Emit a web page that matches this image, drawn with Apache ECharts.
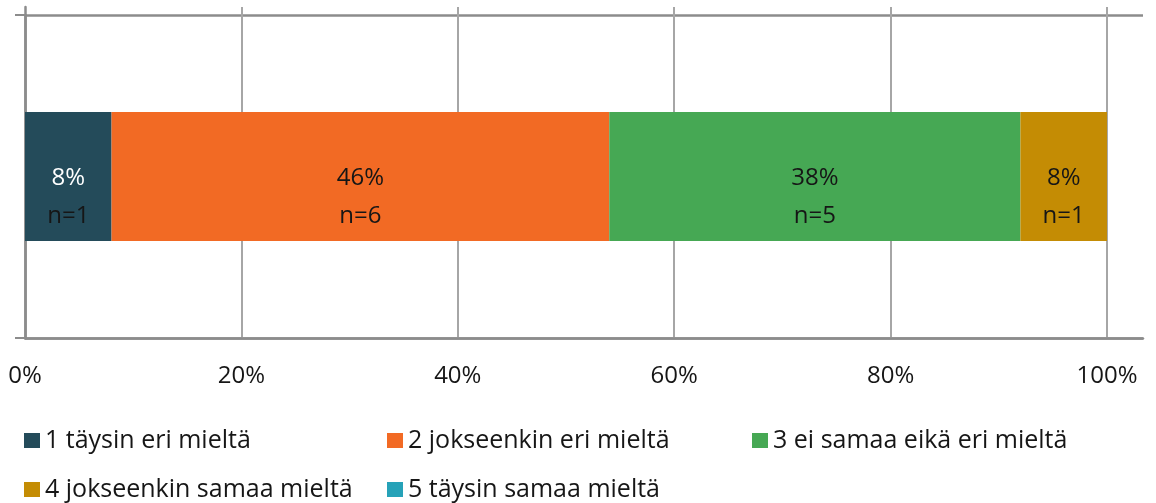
<!DOCTYPE html>
<html><head><meta charset="utf-8">
<script src="https://cdn.jsdelivr.net/npm/echarts@6/dist/echarts.min.js"></script>
<style>html,body{margin:0;padding:0;background:#fff}#c{width:1156px;height:503px}</style>
</head><body><div id="c"></div>
<script>
// ---- data ----
const categories = ['Kysymys'];
const seriesNames = ['1 täysin eri mieltä', '2 jokseenkin eri mieltä', '3 ei samaa eikä eri mieltä', '4 jokseenkin samaa mieltä', '5 täysin samaa mieltä'];
const percentages = [8, 46, 38, 8, 0];
const counts = [1, 6, 5, 1, 0];
const colors = ['#244b5a', '#f26a24', '#46a854', '#c48c04', '#26a2b8'];
const xTickMax = 100;

const chart = echarts.init(document.getElementById('c'), null, {renderer: 'canvas'});
const FONT = '"Open Sans"';
const legendPos = [[24, 428], [387, 428], [752, 428], [24, 477], [387, 477]];
const AXIS_GREY = '#8c8c8c';
const GRID_GREY = '#a6a6a6';
const TEXT = '#161616';

const option = {
  animation: false,
  grid: [
    {left: 25, right: 13, top: 15, bottom: 165},
    {left: 25, right: 13, top: 7, bottom: 165}
  ],
  xAxis: [{
    gridIndex: 0, type: 'value', min: 0, max: 103.33, interval: 20,
    axisLine: {show: true, lineStyle: {color: AXIS_GREY, width: 2.5}},
    axisTick: {show: false},
    axisLabel: {formatter: v => v <= xTickMax ? v + '%' : '', fontSize: 24, fontFamily: FONT, color: TEXT, margin: 26},
    splitLine: {show: false}
  }, {
    gridIndex: 1, type: 'value', min: 0, max: 103.33, interval: 20,
    axisLine: {show: false}, axisTick: {show: false}, axisLabel: {show: false},
    splitLine: {show: true, showMinLine: false, showMaxLine: false, lineStyle: {color: GRID_GREY, width: 2}}
  }],
  yAxis: [{
    gridIndex: 0, type: 'category', data: categories,
    axisLabel: {show: false},
    axisLine: {show: true, lineStyle: {color: AXIS_GREY, width: 2.5}},
    axisTick: {show: true, length: 10, lineStyle: {color: AXIS_GREY, width: 2}},
    splitLine: {show: true, lineStyle: {color: AXIS_GREY, width: 2.5}}
  }, {
    gridIndex: 1, type: 'category', data: categories,
    axisLabel: {show: false}, axisTick: {show: false}, splitLine: {show: false},
    axisLine: {show: true, lineStyle: {color: AXIS_GREY, width: 2.5}}
  }],
  legend: seriesNames.map((n, i) => ({
    data: [n], left: legendPos[i][0], top: legendPos[i][1], padding: 0,
    itemWidth: 16, itemHeight: 15, icon: 'rect', selectedMode: false,
    textStyle: {fontSize: 25, fontFamily: FONT, color: TEXT}
  })),
  series: seriesNames.map((name, i) => ({
    name, type: 'bar', stack: 'total', barWidth: '40%',
    xAxisIndex: 0, yAxisIndex: 0,
    data: [percentages[i]],
    itemStyle: {color: colors[i]},
    emphasis: {disabled: true},
    label: {
      show: percentages[i] > 0, position: 'inside', offset: [0, 21],
      formatter: () => `{p|${percentages[i]}%}\n{n|n=${counts[i]}}`,
      rich: {
        p: {fontSize: 24, fontFamily: FONT, lineHeight: 38, color: i === 0 ? '#ffffff' : TEXT},
        n: {fontSize: 24, fontFamily: FONT, lineHeight: 38, color: TEXT}
      }
    }
  }))
};
chart.setOption(option);
</script></body></html>
